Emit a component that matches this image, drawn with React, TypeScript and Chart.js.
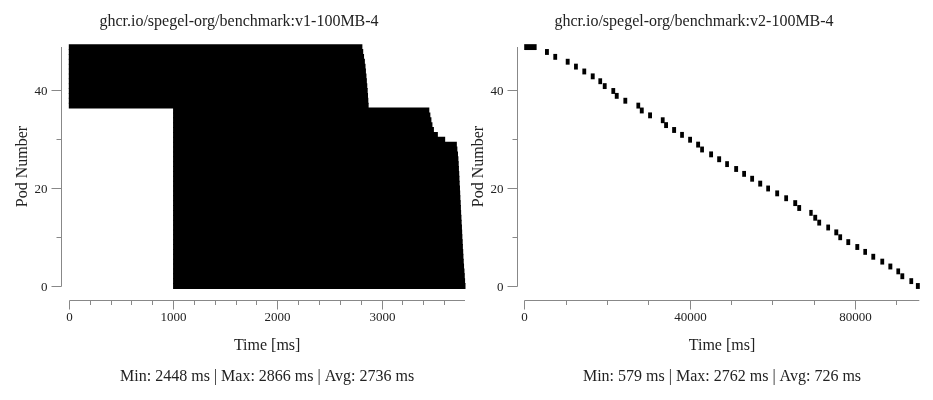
import React, { useEffect, useRef } from "react";
import { Chart, registerables } from "chart.js";

Chart.register(...registerables);

// ---------- data ----------
const PODS = [
  0, 1, 2, 3, 4, 5, 6, 7, 8, 9, 10, 11, 12, 13, 14, 15, 16, 17, 18, 19, 20, 21, 22, 23, 24,
  25, 26, 27, 28, 29, 30, 31, 32, 33, 34, 35, 36, 37, 38, 39, 40, 41, 42, 43, 44, 45, 46, 47, 48, 49,
];

const V1_TITLE = "ghcr.io/spegel-org/benchmark:v1-100MB-4";
const V1_STATS = "Min: 2448 ms | Max: 2866 ms | Avg: 2736 ms";
const V1_START = [
  1000, 1000, 1000, 1000, 1000, 1000, 1000, 1000, 1000, 1000, 1000, 1000, 1000, 1000, 1000, 1000,
  1000, 1000, 1000, 1000, 1000, 1000, 1000, 1000, 1000, 1000, 1000, 1000, 1000, 1000, 1000, 1000,
  1000, 1000, 1000, 1000, 1000, 0, 0, 0, 0, 0, 0, 0, 0, 0, 0, 0, 0, 0,
];
const V1_END = [
  3795, 3791, 3788, 3785, 3781, 3778, 3775, 3773, 3770, 3768, 3765, 3763, 3761, 3758, 3756, 3753,
  3751, 3749, 3746, 3744, 3742, 3739, 3737, 3735, 3732, 3730, 3727, 3723, 3717, 3712, 3600, 3530,
  3492, 3478, 3468, 3458, 3448, 2866, 2863, 2860, 2857, 2853, 2849, 2845, 2840, 2836, 2830, 2822,
  2814, 2806,
];

const V2_TITLE = "ghcr.io/spegel-org/benchmark:v2-100MB-4";
const V2_STATS = "Min: 579 ms | Max: 2762 ms | Avg: 726 ms";
const V2_START = [
  94695, 93122, 90944, 89976, 88040, 86104, 83926, 81990, 80054, 77876, 75940, 74972, 73036, 70858,
  69890, 68922, 66018, 65050, 62872, 60694, 58516, 56580, 54644, 52708, 50772, 48594, 46658, 44722,
  42544, 41576, 39640, 37704, 35768, 33832, 33033, 29960, 27951, 27128, 23982, 21901, 21078, 18997,
  17932, 16093, 14060, 12052, 10043, 7042, 5034, 0,
];
const V2_DURATION = [
  702, 668, 691, 655, 713, 679, 688, 642, 701, 695, 672, 709, 660, 684, 698, 579, 687, 703, 671, 690,
  665, 712, 683, 676, 694, 659, 705, 688, 670, 699, 681, 662, 707, 693, 674, 689, 700, 666, 685, 697,
  678, 692, 661, 704, 686, 673, 696, 680, 691, 2762,
];

const Y_TICK_STEP = 10;
const Y_LABEL_EVERY = 20;
const V1_X_STEP = 200;
const V1_X_LABEL_EVERY = 1000;
const V2_X_STEP = 10000;
const V2_X_LABEL_EVERY = 40000;

const X_TITLE = "Time [ms]";
const Y_TITLE = "Pod Number";

// ---------- styles ----------
const FONT = '"Liberation Serif", "Times New Roman", serif';
const TEXT_COLOR = "#222";
const AXIS_COLOR = "#888";
const BAR_COLOR = "#000";

type PanelProps = {
  left: number;
  width: number;
  padLeft: number;
  padRight: number;
  titleX: number;
  title: string;
  stats: string;
  starts: number[];
  ends: number[];
  xStep: number;
  xLabelEvery: number;
};

const isMultiple = (v: number, m: number) => Math.abs(v / m - Math.round(v / m)) < 1e-6;

function Panel(p: PanelProps) {
  const ref = useRef<HTMLCanvasElement | null>(null);

  useEffect(() => {
    const canvas = ref.current;
    if (!canvas) return;

    const data = PODS.map((pod, i) => ({ y: pod, x: [p.starts[i], p.ends[i]] }));

    const axesPlugin = {
      id: "d3Axes",
      afterDraw(chart: any) {
        const { ctx, chartArea } = chart;
        const xs = chart.scales.x;
        const ys = chart.scales.y;
        const yx = Math.floor(chartArea.left - 7.5) + 0.5;
        const xy = Math.floor(chartArea.bottom + 14) + 0.5;
        ctx.save();
        ctx.strokeStyle = AXIS_COLOR;
        ctx.lineWidth = 1;

        // y axis line
        const yBottom = Math.floor(ys.getPixelForValue(0)) + 0.5;
        ctx.beginPath();
        ctx.moveTo(yx, Math.round(chartArea.top));
        ctx.lineTo(yx, yBottom);
        ctx.stroke();

        ctx.fillStyle = TEXT_COLOR;
        ctx.font = `13px ${FONT}`;
        ctx.textAlign = "right";
        ctx.textBaseline = "alphabetic";
        for (const t of ys.ticks) {
          if (!isMultiple(t.value, Y_TICK_STEP)) continue;
          const py = Math.floor(ys.getPixelForValue(t.value)) + 0.5;
          const major = isMultiple(t.value, Y_LABEL_EVERY);
          const len = major ? 10 : 5;
          ctx.beginPath();
          ctx.moveTo(yx - len, py);
          ctx.lineTo(yx, py);
          ctx.stroke();
          if (major) ctx.fillText(String(Math.round(t.value)), yx - 14, py + 4.5);
        }

        // x axis line
        const x0 = Math.floor(xs.getPixelForValue(0)) + 0.5;
        ctx.beginPath();
        ctx.moveTo(x0, xy);
        ctx.lineTo(chartArea.right, xy);
        ctx.stroke();

        ctx.textAlign = "center";
        for (const t of xs.ticks) {
          if (!isMultiple(t.value, p.xStep)) continue;
          const px = Math.floor(xs.getPixelForValue(t.value)) + 0.5;
          const major = isMultiple(t.value, p.xLabelEvery);
          const len = major ? 9 : 4.5;
          ctx.beginPath();
          ctx.moveTo(px, xy);
          ctx.lineTo(px, xy + len);
          ctx.stroke();
          if (major) ctx.fillText(String(Math.round(t.value)), px, 321);
        }

        // titles
        ctx.font = `16px ${FONT}`;
        ctx.textAlign = "center";
        ctx.fillText(p.title, p.titleX, 25.5);
        const cx = (chartArea.left + chartArea.right) / 2;
        ctx.fillText(X_TITLE, cx, 350);
        ctx.fillText(p.stats, cx, 381);

        ctx.translate(yx - 35, (chartArea.top + chartArea.bottom) / 2);
        ctx.rotate(-Math.PI / 2);
        ctx.fillText(Y_TITLE, 0, 0);
        ctx.restore();
      },
    };

    const chart = new Chart(canvas, {
      type: "bar",
      data: {
        datasets: [
          {
            data: data as any,
            backgroundColor: BAR_COLOR,
            borderWidth: 0,
            barPercentage: 1,
            categoryPercentage: 1,
            inflateAmount: 0.5,
            clip: false as any,
          },
        ],
      },
      options: {
        indexAxis: "y",
        animation: false,
        responsive: false,
        devicePixelRatio: 1,
        events: [],
        layout: { padding: { left: p.padLeft, right: p.padRight, top: 47.1, bottom: 114 } },
        plugins: { legend: { display: false }, tooltip: { enabled: false }, title: { display: false } },
        scales: {
          x: {
            type: "linear",
            display: false,
            bounds: "data",
            min: 0,
            grace: 0,
            ticks: { stepSize: p.xStep, autoSkip: false },
          },
          y: {
            type: "linear",
            display: false,
            offset: false,
            min: 0,
            max: 49,
            ticks: { stepSize: Y_TICK_STEP, includeBounds: false, autoSkip: false },
          },
        },
      },
      plugins: [axesPlugin],
    } as any);

    return () => chart.destroy();
  }, []);

  return (
    <canvas
      ref={ref}
      width={p.width}
      height={400}
      style={{ position: "absolute", left: p.left, top: 0, width: p.width, height: 400 }}
    />
  );
}

export default function App() {
  return (
    <div style={{ position: "absolute", left: 0, top: 0, width: 933, height: 400, background: "#fff" }}>
      <Panel
        left={0}
        width={466}
        padLeft={69.3}
        padRight={1}
        titleX={239}
        title={V1_TITLE}
        stats={V1_STATS}
        starts={V1_START}
        ends={V1_END}
        xStep={V1_X_STEP}
        xLabelEvery={V1_X_LABEL_EVERY}
      />
      <Panel
        left={466}
        width={467}
        padLeft={58.7}
        padRight={13.7}
        titleX={228}
        title={V2_TITLE}
        stats={V2_STATS}
        starts={V2_START}
        ends={V2_START.map((s, i) => s + V2_DURATION[i])}
        xStep={V2_X_STEP}
        xLabelEvery={V2_X_LABEL_EVERY}
      />
    </div>
  );
}
